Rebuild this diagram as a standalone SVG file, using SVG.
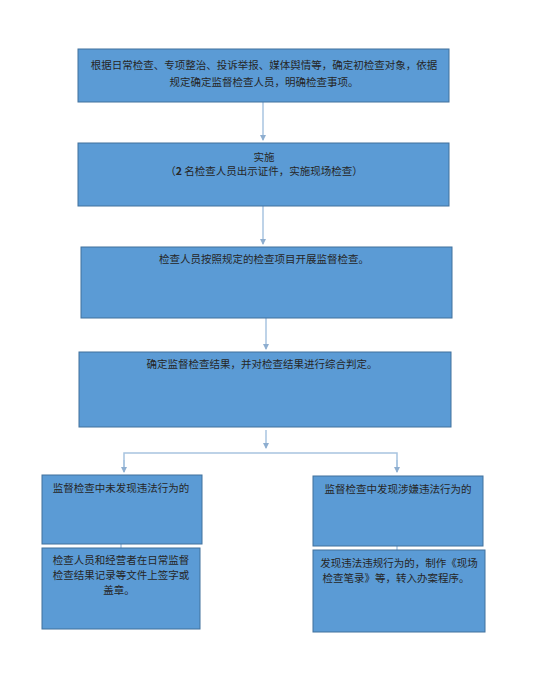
<svg xmlns="http://www.w3.org/2000/svg" width="536" height="694" viewBox="0 0 536 694">
<defs>
<style>
.box{fill:#5b9bd5;stroke:#41719c;stroke-width:1}
.t{font-family:"Noto Sans CJK SC","Noto Sans",sans-serif;font-size:10.5px;fill:#262626;text-anchor:middle}
.c{stroke:#a8c4e0;stroke-width:1.5;fill:none}
</style>
<marker id="ah" viewBox="0 0 6 6" refX="5" refY="3" markerWidth="4" markerHeight="4" orient="auto">
<path d="M0,0 L6,3 L0,6 Z" fill="#8eaed0"/>
</marker>
</defs>
<rect width="536" height="694" fill="#ffffff"/>
<g id="connectors">
<line class="c" x1="263" y1="102" x2="263" y2="140" marker-end="url(#ah)"/>
<line class="c" x1="263" y1="206" x2="263" y2="244" marker-end="url(#ah)"/>
<line class="c" x1="266" y1="318" x2="266" y2="349" marker-end="url(#ah)"/>
<line class="c" x1="266" y1="430" x2="266" y2="448" marker-end="url(#ah)"/>
<polyline class="c" points="124,472 124,453 397,453 397,472"/>
<line class="c" x1="124" y1="460" x2="124" y2="472" marker-end="url(#ah)"/>
<line class="c" x1="397" y1="460" x2="397" y2="472" marker-end="url(#ah)"/>
<line class="c" x1="121" y1="544" x2="121" y2="548"/>
<line class="c" x1="397" y1="546" x2="397" y2="550"/>
</g>
<g id="n1">
<rect class="box" x="78" y="49" width="371" height="53"/>
<text class="t" x="264" y="69">根据日常检查、专项整治、投诉举报、媒体舆情等，确定初检查对象，依据</text>
<text class="t" x="264" y="86">规定确定监督检查人员，明确检查事项。</text>
</g>
<g id="n2">
<rect class="box" x="78" y="143" width="371" height="63"/>
<text class="t" x="264" y="161">实施</text>
<text class="t" x="264" y="175">（<tspan font-weight="bold">2</tspan> 名检查人员出示证件，实施现场检查）</text>
</g>
<g id="n3">
<rect class="box" x="81" y="247" width="371" height="71"/>
<text class="t" x="264" y="263">检查人员按照规定的检查项目开展监督检查。</text>
</g>
<g id="n4">
<rect class="box" x="79" y="352" width="372" height="75"/>
<text class="t" x="262" y="368">确定监督检查结果，并对检查结果进行综合判定。</text>
</g>
<g id="n5">
<rect class="box" x="42" y="475" width="160" height="69"/>
<text class="t" x="121" y="492">监督检查中未发现违法行为的</text>
</g>
<g id="n6">
<rect class="box" x="42" y="548" width="158" height="81"/>
<text class="t" x="121" y="564">检查人员和经营者在日常监督</text>
<text class="t" x="121" y="579">检查结果记录等文件上签字或</text>
<text class="t" x="119" y="594">盖章。</text>
</g>
<g id="n7">
<rect class="box" x="313" y="476" width="170" height="70"/>
<text class="t" x="398" y="493">监督检查中发现涉嫌违法行为的</text>
</g>
<g id="n8">
<rect class="box" x="313" y="550" width="172" height="82"/>
<text class="t" x="399" y="567">发现违法违规行为的，制作《现场</text>
<text class="t" x="396" y="582">检查笔录》等，转入办案程序。</text>
</g>
</svg>
